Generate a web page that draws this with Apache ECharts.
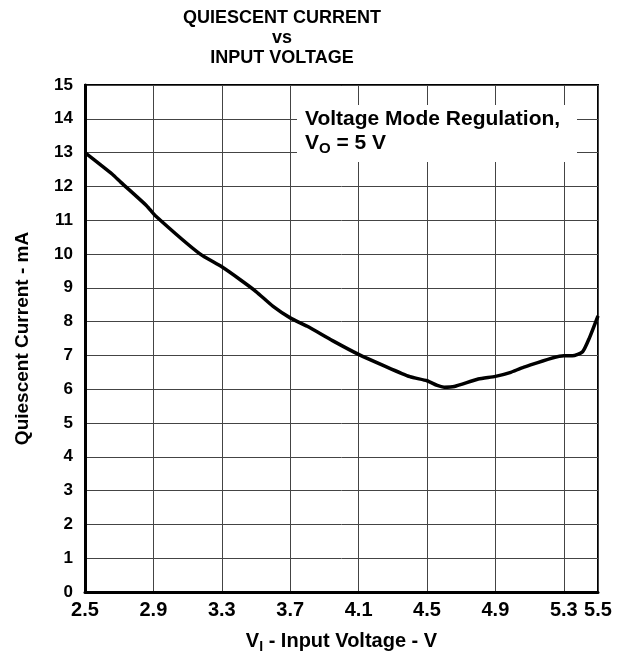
<!DOCTYPE html>
<html>
<head>
<meta charset="utf-8">
<script src="https://cdn.jsdelivr.net/npm/echarts@6/dist/echarts.min.js"></script>
<style>
  html, body { margin: 0; padding: 0; background: #fff; }
  #chart { width: 629px; height: 659px; }
</style>
</head>
<body>
<div id="chart"></div>
<script>
// input voltage (V) and quiescent current (mA)
const inputVoltage = [2.5, 2.66, 2.71, 2.86, 2.91, 3.17, 3.30, 3.41, 3.50, 3.60, 3.70, 3.80, 3.95, 4.10, 4.25, 4.40, 4.50, 4.56, 4.60, 4.66, 4.80, 4.90, 4.99, 5.06, 5.30, 5.35, 5.41, 5.45, 5.50];
const quiescentCurrent = [13.0, 12.36, 12.12, 11.43, 11.14, 10.01, 9.62, 9.23, 8.89, 8.45, 8.11, 7.86, 7.43, 7.03, 6.69, 6.37, 6.25, 6.11, 6.06, 6.08, 6.30, 6.38, 6.50, 6.64, 6.99, 6.99, 7.11, 7.52, 8.17];
const titleLines = ['QUIESCENT CURRENT', 'vs', 'INPUT VOLTAGE'];

const sans = '"Liberation Sans", Arial, Helvetica, sans-serif';

const chart = echarts.init(document.getElementById('chart'));

const option = {
    animation: false,
    grid: {
        left: 85,
        right: 31,
        top: 85,
        bottom: 62,
        show: true,
        borderColor: '#000',
        borderWidth: 2
    },
    xAxis: {
        type: 'value',
        min: 2.5,
        max: 5.5,
        interval: 0.4,
        axisLine: { show: true, lineStyle: { color: '#000', width: 3 } },
        axisTick: { show: false },
        splitLine: { show: true, lineStyle: { color: '#444', width: 1 } },
        axisLabel: {
            margin: 8,
            color: '#000',
            fontFamily: sans,
            fontWeight: 'bold',
            fontSize: 20,
            formatter: v => v.toFixed(1)
        },
        name: '{b|V}{s|I}{b| - Input Voltage - V}',
        nameLocation: 'middle',
        nameGap: 36,
        nameTextStyle: {
            rich: {
                b: { fontFamily: sans, fontWeight: 'bold', fontSize: 20, color: '#000' },
                s: { fontFamily: sans, fontWeight: 'bold', fontSize: 14, color: '#000', padding: [12, 0, 0, 0] }
            }
        }
    },
    yAxis: {
        type: 'value',
        min: 0,
        max: 15,
        interval: 1,
        axisLine: { show: true, lineStyle: { color: '#000', width: 3 } },
        axisTick: { show: false },
        splitLine: { show: true, lineStyle: { color: '#444', width: 1 } },
        axisLabel: {
            margin: 12,
            color: '#000',
            fontFamily: sans,
            fontWeight: 'bold',
            fontSize: 17
        },
        name: 'Quiescent Current - mA',
        nameLocation: 'middle',
        nameGap: 53,
        nameTextStyle: { fontFamily: sans, fontWeight: 'bold', fontSize: 19, color: '#000' }
    },
    graphic: [
        {
            type: 'text', x: 282, y: 18, z: 10,
            style: { text: titleLines[0], align: 'center', verticalAlign: 'middle', fontFamily: sans, fontWeight: 'bold', fontSize: 18, fill: '#000' }
        },
        {
            type: 'text', x: 282, y: 38, z: 10,
            style: { text: titleLines[1], align: 'center', verticalAlign: 'middle', fontFamily: sans, fontWeight: 'bold', fontSize: 18, fill: '#000' }
        },
        {
            type: 'text', x: 282, y: 58, z: 10,
            style: { text: titleLines[2], align: 'center', verticalAlign: 'middle', fontFamily: sans, fontWeight: 'bold', fontSize: 18, fill: '#000' }
        },
        {
            type: 'rect', z: 5,
            shape: { x: 297, y: 105, width: 280, height: 57 },
            style: { fill: '#fff' }
        },
        {
            type: 'text', x: 305, y: 119, z: 10,
            style: { text: 'Voltage Mode Regulation,', verticalAlign: 'middle', fontFamily: sans, fontWeight: 'bold', fontSize: 21, fill: '#000' }
        },
        {
            type: 'text', x: 305, y: 143, z: 10,
            style: {
                text: '{b|V}{s|O}{b| = 5 V}',
                verticalAlign: 'middle',
                rich: {
                    b: { fontFamily: sans, fontWeight: 'bold', fontSize: 21, fill: '#000' },
                    s: { fontFamily: sans, fontWeight: 'bold', fontSize: 15, fill: '#000', padding: [12, 0, 0, 0] }
                }
            }
        }
    ],
    series: [
        {
            type: 'line',
            data: inputVoltage.map((v, i) => [v, quiescentCurrent[i]]),
            showSymbol: false,
            smooth: 0.2,
            lineStyle: { color: '#000', width: 3.5 },
            z: 20
        }
    ]
};

chart.setOption(option);
</script>
</body>
</html>
